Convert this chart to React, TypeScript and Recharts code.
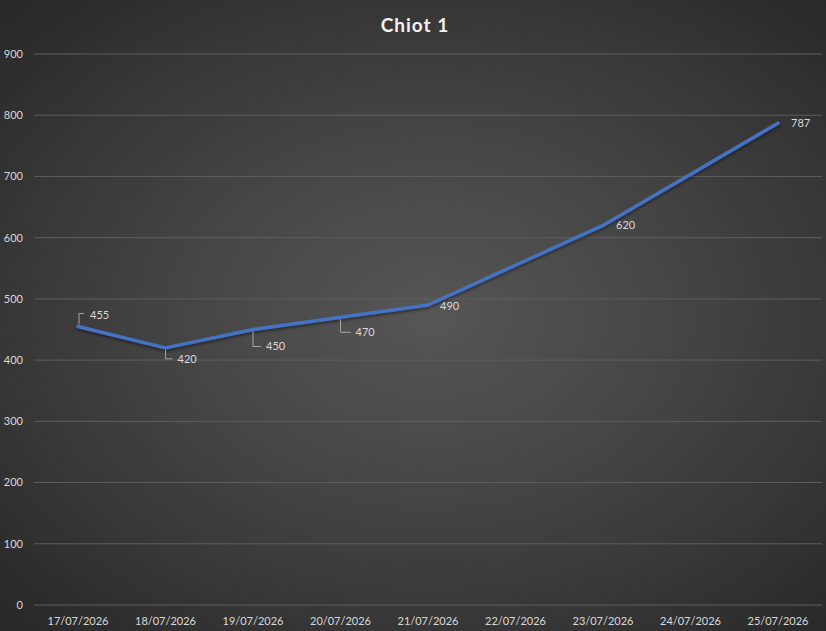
import { CartesianGrid, LabelList, Line, LineChart, XAxis, YAxis } from "recharts";

const dates = [
  "17/07/2026",
  "18/07/2026",
  "19/07/2026",
  "20/07/2026",
  "21/07/2026",
  "22/07/2026",
  "23/07/2026",
  "24/07/2026",
  "25/07/2026",
];
const weights: Array<number | null> = [455, 420, 450, 470, 490, null, 620, null, 787];
const yTicks = [0, 100, 200, 300, 400, 500, 600, 700, 800, 900];

const data = dates.map((day, i) => ({ day, weight: weights[i] }));

// where each data label sits relative to its point, and whether it gets a leader line
const labelPlacement: Record<number, { dx: number; dy: number; leader?: "up" | "down" }> = {
  0: { dx: 12, dy: -11, leader: "up" },
  1: { dx: 12, dy: 11, leader: "down" },
  2: { dx: 13, dy: 17, leader: "down" },
  3: { dx: 15, dy: 15, leader: "down" },
  4: { dx: 12, dy: 1 },
  6: { dx: 13, dy: 0 },
  8: { dx: 13, dy: 0 },
};

function PointLabel(props: any) {
  const { x, y, value, index } = props;
  if (value == null) return null;
  const p = labelPlacement[index] ?? { dx: 12, dy: 0 };
  const tx = x + p.dx;
  const ty = y + p.dy;
  let leader = null;
  if (p.leader === "up") {
    leader = <path d={`M${x + 1},${y - 2} L${x + 1},${ty - 2} L${tx - 6},${ty - 2}`} stroke="#a6a6a6" fill="none" strokeWidth={1} />;
  } else if (p.leader === "down") {
    leader = <path d={`M${x},${y + 2} L${x},${ty} L${tx - 5},${ty}`} stroke="#a6a6a6" fill="none" strokeWidth={1} />;
  }
  return (
    <g>
      {leader}
      <text x={tx} y={ty} dy="0.35em" fill="#d9d9d9" fontSize={11} fontFamily="Lato, 'Open Sans', sans-serif">
        {value}
      </text>
    </g>
  );
}

export default function App() {
  return (
    <div
      style={{
        position: "absolute",
        left: 0,
        top: 0,
        width: 826,
        height: 631,
        background: "radial-gradient(ellipse at 52% 50%, #565656 0%, #434343 45%, #272727 100%)",
        fontFamily: "Lato, 'Open Sans', sans-serif",
      }}
    >
      <div
        style={{
          position: "absolute",
          left: 0,
          width: 830,
          top: 13,
          textAlign: "center",
          color: "#f2f2f2",
          fontSize: 19,
          fontWeight: 700,
          letterSpacing: 1,
        }}
      >
        Chiot 1
      </div>
      <LineChart width={826} height={631} data={data} margin={{ top: 54, right: 4, left: 0, bottom: 0 }}>
        <defs>
          <filter id="lineShadow" x="-5%" y="-5%" width="110%" height="120%">
            <feDropShadow dx="0" dy="2" stdDeviation="1.5" floodColor="#000" floodOpacity="0.45" />
          </filter>
        </defs>
        <CartesianGrid vertical={false} stroke="#5e5e5e" strokeWidth={1} />
        <XAxis
          dataKey="day"
          interval={0}
          height={26}
          padding={{ left: 44, right: 44 }}
          axisLine={false}
          tickLine={false}
          tickSize={0}
          tickMargin={12}
          tick={{ fill: "#d9d9d9", fontSize: 11 }}
        />
        <YAxis
          domain={[0, 900]}
          ticks={yTicks}
          width={34}
          axisLine={false}
          tickLine={false}
          tickSize={0}
          tickMargin={11}
          tick={{ fill: "#d9d9d9", fontSize: 11 }}
        />
        <Line
          type="linear"
          dataKey="weight"
          stroke="#4472c4"
          strokeWidth={3.5}
          strokeLinecap="round"
          strokeLinejoin="round"
          dot={false}
          activeDot={false}
          connectNulls
          filter="url(#lineShadow)"
          isAnimationActive={false}
        >
          <LabelList dataKey="weight" content={<PointLabel />} />
        </Line>
      </LineChart>
    </div>
  );
}
